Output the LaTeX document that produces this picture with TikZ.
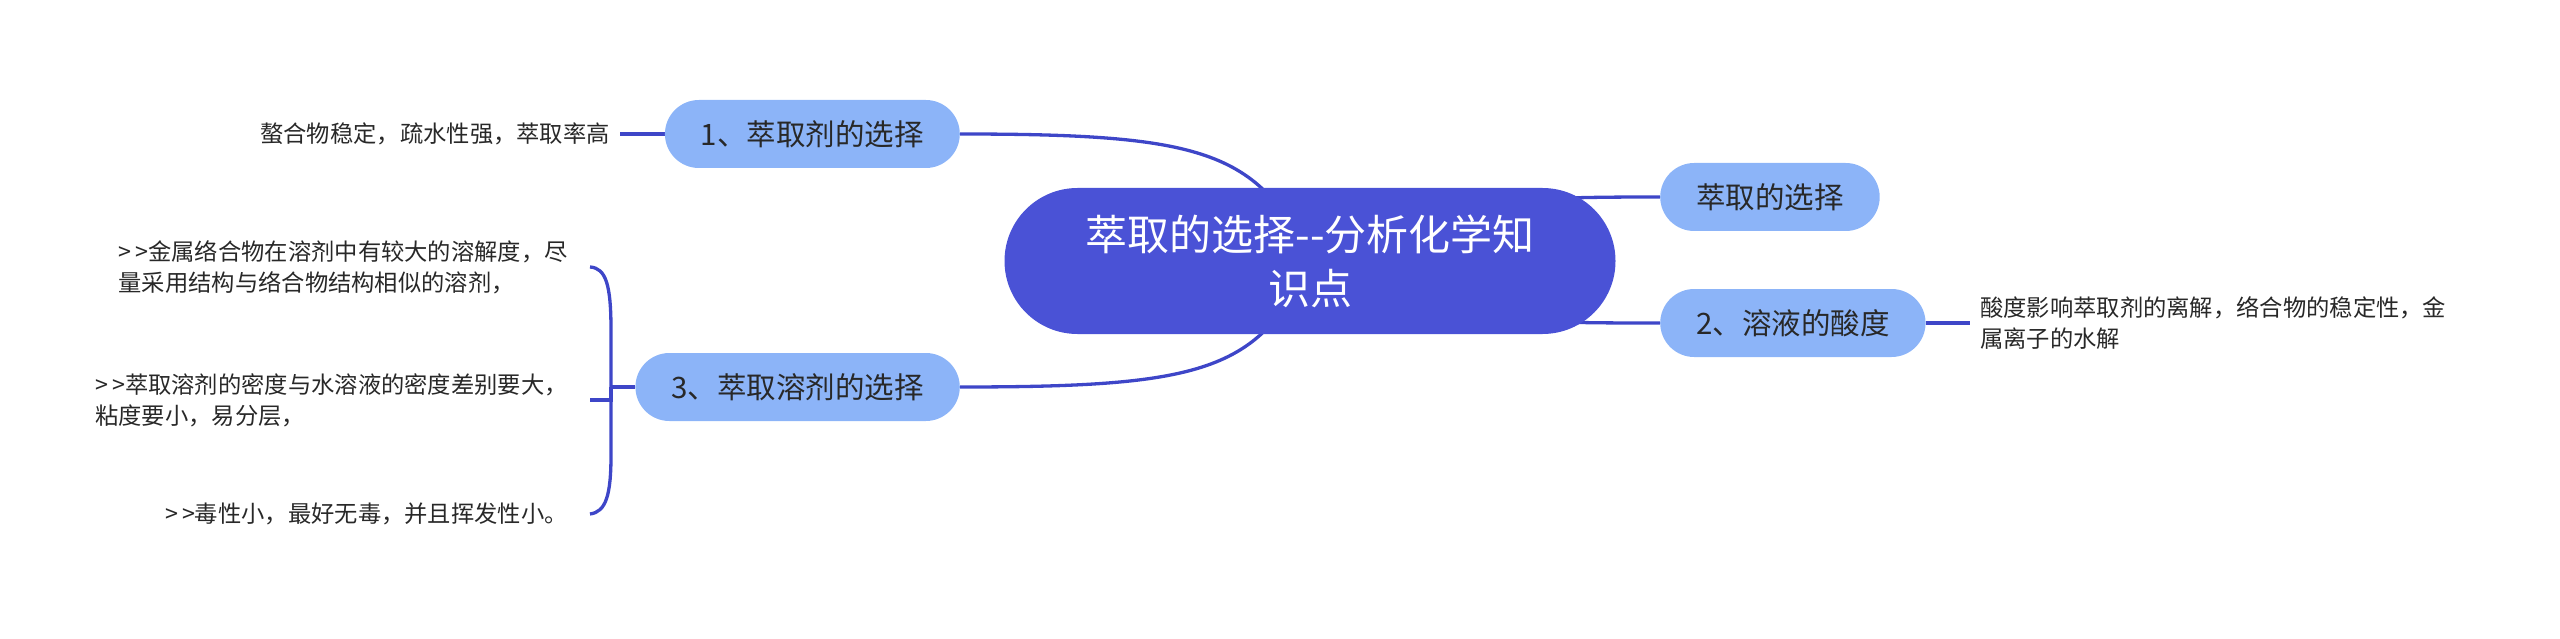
\documentclass[tikz,border=0pt]{standalone}
\usepackage{fontspec}
\setmainfont{Noto Sans CJK SC}
\usetikzlibrary{backgrounds}
\definecolor{rootblue}{RGB}{74,82,214}
\definecolor{topicblue}{RGB}{140,180,248}
\definecolor{linkblue}{RGB}{62,70,200}
\definecolor{textgrey}{RGB}{40,40,40}
\begin{document}
\begin{tikzpicture}[x=1pt, y=-1pt,
		rootnode/.style = {fill=rootblue, text=white, rounded corners=73pt, minimum width=611pt, minimum height=146pt, align=center, font=\fontsize{42}{54}\selectfont},
		topic/.style = {fill=topicblue, text=textgrey, rounded corners=34pt, minimum height=68pt, inner xsep=36pt, inner ysep=0pt, font=\fontsize{29.5}{36}\selectfont},
		leaf/.style = {text=textgrey, align=left, inner xsep=10pt, inner ysep=4pt, font=\fontsize{23.3}{31}\selectfont},
		link/.style = {draw=linkblue, line width=3.3pt}]
	\useasboundingbox (0,0) rectangle (2560,639);
	\node[rootnode] (root) at (1310,261) {萃取的选择-{}-分析化学知\\识点};
	\node[topic, anchor=east] (extractant) at (960,134) {1、萃取剂的选择};
	\node[topic, anchor=east] (solvent) at (960,387) {3、萃取溶剂的选择};
	\node[topic, anchor=west] (choice) at (1660,197) {萃取的选择};
	\node[topic, anchor=west] (acidity) at (1660,323) {2、溶液的酸度};
	\node[leaf, anchor=east] (chelate) at (620,134) {螯合物稳定，疏水性强，萃取率高};
	\node[leaf, anchor=west] (ionize) at (1970,323) {酸度影响萃取剂的离解，络合物的稳定性，金\\属离子的水解};
	\node[leaf, anchor=east, inner xsep=22pt] (solvA) at (590,267) {>\,>金属络合物在溶剂中有较大的溶解度，尽\\量采用结构与络合物结构相似的溶剂，};
	\node[leaf, anchor=east, inner xsep=22pt] (solvB) at (590,400) {>\,>萃取溶剂的密度与水溶液的密度差别要大，\\粘度要小，易分层，};
	\node[leaf, anchor=east, inner xsep=22pt] (solvC) at (590,514) {>\,>毒性小，最好无毒，并且挥发性小。};
	\coordinate (fork) at (611,387);
	\begin{pgfonlayer}{background}
		\draw[link] (extractant.east) .. controls (1200,134) and (1260,150) .. (root.center);
		\draw[link] (solvent.east) .. controls (1200,387) and (1260,372) .. (root.center);
		\draw[link] (root.center) .. controls (1450,200) and (1500,197) .. (choice.west);
		\draw[link] (root.center) .. controls (1450,322) and (1500,323) .. (acidity.west);
		\draw[link] (extractant.west) -- (chelate.east);
		\draw[link] (acidity.east) -- (ionize.west);
		\draw[link] (solvent.west) -- (fork);
		\draw[link] (fork) -- (611,330) .. controls (611,285) and (606,268) .. (solvA.east);
		\draw[link] (fork) |- (solvB.east);
		\draw[link] (fork) -- (611,455) .. controls (611,495) and (606,512) .. (solvC.east);
	\end{pgfonlayer}
\end{tikzpicture}
\end{document}
